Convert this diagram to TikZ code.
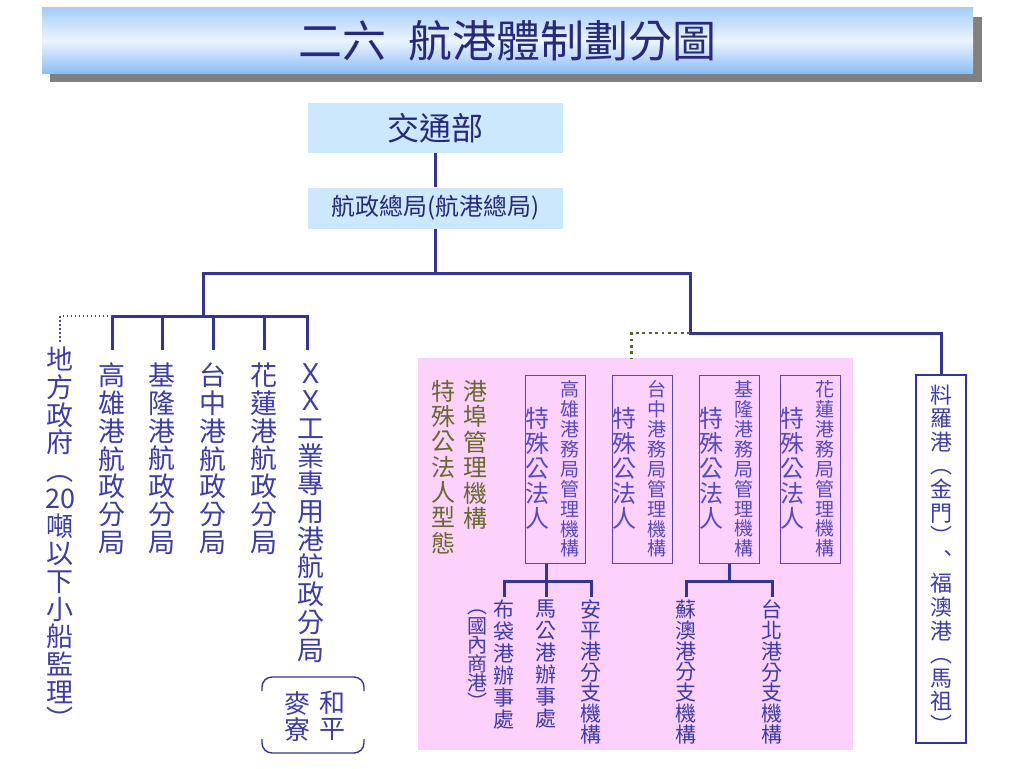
\documentclass[tikz,border=0pt]{standalone}
\usepackage{fontspec}
\setmainfont{Noto Sans CJK TC}
\usetikzlibrary{positioning}

\definecolor{linecol}{RGB}{51,51,153}
\definecolor{textblue}{RGB}{60,60,170}
\definecolor{boxtext}{RGB}{85,75,195}
\definecolor{boxline}{RGB}{95,70,160}
\definecolor{olivetext}{RGB}{105,105,45}
\definecolor{olivedot}{RGB}{80,105,35}
\definecolor{pinkbg}{RGB}{252,210,252}
\definecolor{skyfill}{RGB}{204,232,252}
\definecolor{titletext}{RGB}{40,40,125}

% vertical text, one character per line
\ExplSyntaxOn
\NewDocumentCommand\vtext{O{1.03em}m}
  {
    \tl_set:Nx \l_tmpa_tl {#2}
    \vbox
      {
        \baselineskip=#1
        \lineskiplimit=-\maxdimen
        \tl_map_inline:Nn \l_tmpa_tl { \hbox_to_wd:nn {1em} { \hss ##1 \hss } }
      }
  }
\ExplSyntaxOff

\begin{document}
\begin{tikzpicture}[x=1pt, y=-1pt,
  conn/.style={draw=linecol, line width=3pt},
  greydots/.style={draw=linecol!70!gray, line width=1.5pt, dash pattern=on 1.5pt off 2.5pt},
  olivedots/.style={draw=olivedot, line width=2.8pt, dash pattern=on 2.8pt off 3.6pt},
  skybox/.style={rectangle, fill=skyfill, minimum width=255pt, text=titletext},
  vcol/.style={inner xsep=0pt, inner ysep=13pt, anchor=north, text=textblue, font=\fontsize{27}{28}\selectfont},
  subcol/.style={inner xsep=0pt, inner ysep=3pt, anchor=north, text=textblue, font=\fontsize{21}{22}\selectfont},
  pabox/.style={rectangle, draw=boxline, line width=1pt, minimum width=60pt, minimum height=188pt},
  bigcol/.style={inner sep=0pt, text=boxtext, font=\fontsize{24}{25}\selectfont},
  smallcol/.style={inner sep=0pt, text=boxtext, font=\fontsize{19}{20}\selectfont},
  bracket/.style={draw=linecol, line width=1.4pt, rounded corners=10pt}]

\useasboundingbox (0,0) rectangle (1024,768);

% title banner
\fill[gray] (50,17) rectangle (982,82);
\node[rectangle, minimum width=931pt, minimum height=65pt,
  top color={rgb,255:red,165;green,205;blue,248}, bottom color={rgb,255:red,140;green,190;blue,245},
  middle color={rgb,255:red,236;green,245;blue,255},
  text=titletext, font=\fontsize{44}{45}\selectfont] (title) at (507.5,40.5) {二六\hspace{0.5em}航港體制劃分圖};

% top of the tree
\node[skybox, minimum height=50pt, font=\fontsize{32}{34}\selectfont] (mot) at (435.5,128) {交通部};
\node[skybox, minimum height=41pt, font=\fontsize{24}{26}\selectfont] (hq) at (435.5,208) {航政總局(航港總局)};

\coordinate (bar) at (435.5,273);
\coordinate (barR) at (690,273);
\coordinate (subbar) at (203,316);
\coordinate (corner) at (690,333);

% navigation bureaus
\node[vcol] (k1) at (112,350) {\vtext[27.7pt]{高雄港航政分局}};
\node[vcol] (k2) at (162,350) {\vtext[27.7pt]{基隆港航政分局}};
\node[vcol] (k3) at (213,350) {\vtext[27.7pt]{台中港航政分局}};
\node[vcol] (k4) at (264,350) {\vtext[27.7pt]{花蓮港航政分局}};
\node[vcol] (k5) at (311,350) {\vtext[27.7pt]{ＸＸ工業專用港航政分局}};
\node[vcol, inner ysep=4pt] (local) at (60,343) {\vtext[27.7pt]{地方政府︵{20}噸以下小船監理︶}};

\node[vcol, inner ysep=0pt, font=\fontsize{26}{27}\selectfont] (hp) at (332,691) {\vtext[26pt]{和平}};
\node[vcol, inner ysep=0pt, font=\fontsize{26}{27}\selectfont] (ml) at (297,691) {\vtext[26pt]{麥寮}};
\draw[bracket] (262,691) -- (262,677) -- (364,677) -- (364,691);
\draw[bracket] (262,739) -- (262,753) -- (364,753) -- (364,739);

% special public corporations
\node[fill=pinkbg, minimum width=435pt, minimum height=392pt, inner sep=0pt] (spa) at (635.5,554) {};
\node[vcol, inner ysep=0pt, text=olivetext, font=\fontsize{24}{25}\selectfont] (ptypeA) at (475,380) {\vtext[25.5pt]{港埠管理機構}};
\node[vcol, inner ysep=0pt, text=olivetext, font=\fontsize{24}{25}\selectfont] (ptypeB) at (443,380) {\vtext[25.3pt]{特殊公法人型態}};

\foreach \n/\x/\agency in {1/555/高雄港務局管理機構, 2/642/台中港務局管理機構,
                           3/729/基隆港務局管理機構, 4/810/花蓮港務局管理機構} {
  \node[pabox] (pa\n) at (\x,469) {};
  \node[bigcol, below right=33pt and 1pt of pa\n.north west] (pa\n-big) {\vtext[24.8pt]{特殊公法人}};
  \node[smallcol, below left=6pt and 6pt of pa\n.north east] (pa\n-small) {\vtext[19.9pt]{\agency}};
}

\node[subcol] (bd) at (504,597) {\vtext[22pt]{布袋港辦事處}};
\node[subcol, inner ysep=0pt, font=\fontsize{20}{21}\selectfont] (dom) at (477,610) {\vtext[19.2pt]{︵國內商港︶}};
\node[subcol] (mg) at (546,597) {\vtext[22pt]{馬公港辦事處}};
\node[subcol] (ap) at (591,597) {\vtext[20.7pt]{安平港分支機構}};
\node[subcol] (sa) at (686,597) {\vtext[20.7pt]{蘇澳港分支機構}};
\node[subcol] (tp) at (772,597) {\vtext[20.7pt]{台北港分支機構}};

\node[rectangle, draw=linecol, line width=1.2pt, fill=white, minimum width=50pt, minimum height=368pt,
  inner sep=0pt, text=textblue, font=\fontsize{22}{23}\selectfont] (lieluo) at (941,559)
  {\vtext[23.6pt]{料羅港︵金門︶︑福澳港︵馬祖︶}};

% connectors
\draw[conn] (mot) -- (hq);
\draw[conn] (hq) -- (bar);
\draw[conn] (subbar) |- (barR) -- (corner) -| (lieluo.north);
\draw[conn] (k1.north) |- (subbar) -| ([xshift=-4pt]k5.north);
\foreach \k in {k2,k3,k4}
  \draw[conn] (\k.north) -- (\k.north |- subbar);
\draw[greydots] (k1.north |- subbar) -| (local.north);
\draw[olivedots] (corner) -| ([xshift=-4pt]spa.north);

\coordinate (j1) at (546,581);
\coordinate (j3) at (729,581);
\draw[conn] ([xshift=-9pt]pa1.south) -- (j1);
\draw[conn] (bd.north) |- (j1) -| (ap.north);
\draw[conn] (mg.north) -- (j1);
\draw[conn] (pa3.south) -- (j3);
\draw[conn] (sa.north) |- (j3) -| (tp.north);
\end{tikzpicture}
\end{document}
